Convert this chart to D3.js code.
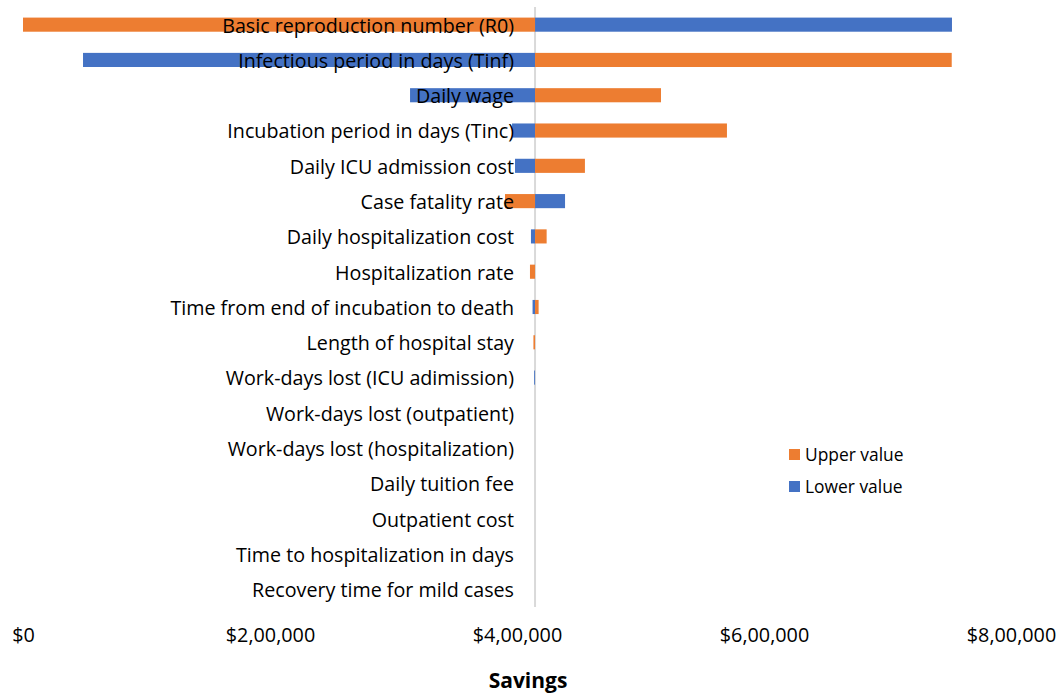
<!DOCTYPE html>
<html><head><meta charset="utf-8">
<script src="https://cdn.jsdelivr.net/npm/d3@7"></script>
<style>body{margin:0;background:#fff}svg{display:block}text{font-family:"Open Sans","Noto Sans",sans-serif}</style>
</head><body><svg id="c" width="1059" height="694"></svg>
<script>
const categories = ["Basic reproduction number (R0)","Infectious period in days (Tinf)","Daily wage","Incubation period in days (Tinc)","Daily ICU admission cost","Case fatality rate","Daily hospitalization cost","Hospitalization rate","Time from end of incubation to death","Length of hospital stay","Work-days lost (ICU adimission)","Work-days lost (outpatient)","Work-days lost (hospitalization)","Daily tuition fee","Outpatient cost","Time to hospitalization in days","Recovery time for mild cases"];
const baseValue = 414600;
const upperValues = [0, 752000, 516600, 570000, 455000, 390300, 424000, 410500, 417500, 413300, 414600, 414600, 414600, 414600, 414600, 414600, 414600];
const lowerValues = [752200, 48600, 313400, 396000, 398400, 438900, 411300, 414600, 412600, 414600, 413900, 414600, 414600, 414600, 414600, 414600, 414600];
const tickValues = [0, 200000, 400000, 600000, 800000];
const tickLabels = ["$0", "$2,00,000", "$4,00,000", "$6,00,000", "$8,00,000"];
const legendLabels = ["Upper value", "Lower value"];
const colors = {upper: "#ED7D31", lower: "#4472C4"};

const svg = d3.select("#c");
const x = d3.scaleLinear().domain([0, 800000]).range([23, 1011]);
const y = d3.scaleBand().domain(categories).range([7, 607]).paddingInner(0.6).paddingOuter(0.3);

svg.append("line").attr("x1", x(baseValue)).attr("x2", x(baseValue)).attr("y1", 7).attr("y2", 607)
  .attr("stroke", "#d9d9d9").attr("stroke-width", 2);

const bars = svg.append("g");
categories.forEach((c, i) => {
  [[lowerValues[i], colors.lower], [upperValues[i], colors.upper]].forEach(([v, col]) => {
    const w = Math.abs(x(v) - x(baseValue));
    if (w < 0.3) return;
    bars.append("rect").attr("x", Math.min(x(v), x(baseValue))).attr("y", y(c))
      .attr("width", w).attr("height", y.bandwidth()).attr("fill", col);
  });
});

svg.append("g").selectAll("text").data(categories).join("text")
  .attr("x", 514).attr("y", d => y(d) + y.bandwidth() / 2 + 1).attr("dy", "0.35em")
  .attr("text-anchor", "end").attr("font-size", 19.7).attr("fill", "#000").text(d => d);

const axis = d3.axisBottom(x).tickValues(tickValues).tickFormat((d, i) => tickLabels[i]).tickSize(0).tickPadding(0);
const ag = svg.append("g").attr("transform", "translate(0,628)").call(axis);
ag.select(".domain").remove();
ag.selectAll("text").attr("font-size", 19.8).attr("fill", "#000").attr("font-family", "\"Open Sans\",\"Noto Sans\",sans-serif");

svg.append("text").attr("x", 528).attr("y", 688).attr("text-anchor", "middle")
  .attr("font-size", 21).attr("font-weight", "bold").attr("fill", "#000").text("Savings");

const lg = svg.append("g").attr("transform", "translate(789,449)");
[[legendLabels[0], colors.upper], [legendLabels[1], colors.lower]].forEach(([t, col], i) => {
  lg.append("rect").attr("x", 0).attr("y", i * 32).attr("width", 11).attr("height", 11).attr("fill", col);
  lg.append("text").attr("x", 16).attr("y", i * 32 + 6).attr("dy", "0.35em").attr("font-size", 17.4).attr("fill", "#000").text(t);
});
</script></body></html>
